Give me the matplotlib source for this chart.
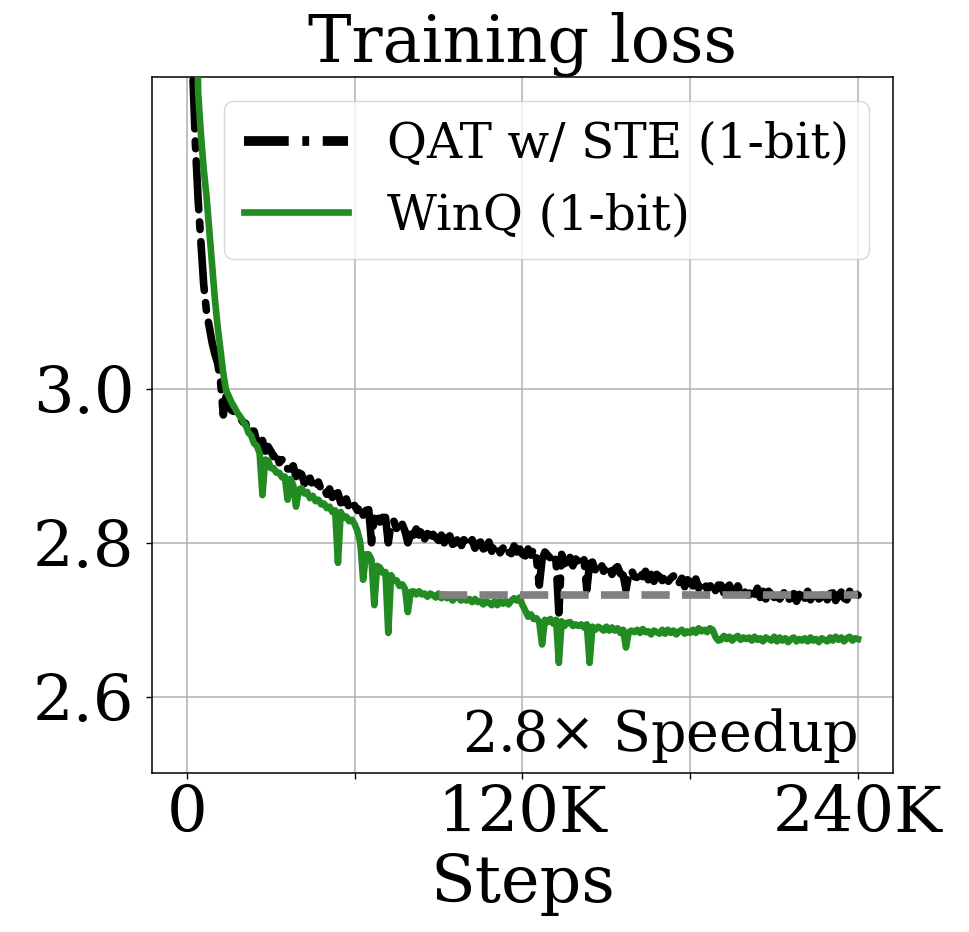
import numpy as np
import matplotlib
matplotlib.use("Agg")
import matplotlib.pyplot as plt

plt.rcParams['font.family'] = ['DejaVu Serif']
plt.rcParams['mathtext.fontset'] = 'dejavuserif'

# ---------------- data (loss logged every 1K steps) ----------------
steps_k = np.arange(1, 241)  # 1K ... 240K

qat_loss = [
    3.75, 3.42, 3.32, 3.245, 3.19, 3.135, 3.10, 3.08, 3.06, 3.045,
    3.033, 3.01, 2.966, 2.99, 2.979, 2.972, 2.970, 2.964, 2.962, 2.957,
    2.955, 2.942, 2.945, 2.945, 2.931, 2.930, 2.933, 2.919, 2.925, 2.919,
    2.912, 2.918, 2.904, 2.908, 2.908, 2.896, 2.896, 2.900, 2.886, 2.891,
    2.889, 2.877, 2.882, 2.884, 2.874, 2.870, 2.879, 2.869, 2.872, 2.863,
    2.870, 2.859, 2.863, 2.865, 2.852, 2.853, 2.857, 2.845, 2.852, 2.848,
    2.842, 2.849, 2.836, 2.842, 2.843, 2.800, 2.834, 2.839, 2.827, 2.833,
    2.833, 2.800, 2.826, 2.828, 2.818, 2.814, 2.824, 2.815, 2.800, 2.811,
    2.810, 2.818, 2.810, 2.817, 2.805, 2.812, 2.802, 2.811, 2.807, 2.803,
    2.810, 2.800, 2.806, 2.809, 2.798, 2.800, 2.806, 2.795, 2.804, 2.801,
    2.796, 2.804, 2.793, 2.799, 2.801, 2.792, 2.794, 2.801, 2.789, 2.797,
    2.797, 2.787, 2.793, 2.797, 2.788, 2.786, 2.796, 2.788, 2.792, 2.785,
    2.783, 2.792, 2.784, 2.792, 2.780, 2.745, 2.778, 2.788, 2.784, 2.780,
    2.786, 2.776, 2.709, 2.785, 2.773, 2.775, 2.781, 2.770, 2.779, 2.776,
    2.770, 2.778, 2.739, 2.773, 2.775, 2.765, 2.768, 2.774, 2.763, 2.770,
    2.770, 2.759, 2.766, 2.769, 2.760, 2.758, 2.739, 2.759, 2.764, 2.756,
    2.755, 2.764, 2.756, 2.763, 2.752, 2.759, 2.750, 2.759, 2.756, 2.751,
    2.758, 2.749, 2.754, 2.757, 2.746, 2.748, 2.754, 2.743, 2.752, 2.749,
    2.744, 2.753, 2.741, 2.747, 2.750, 2.740, 2.743, 2.749, 2.738, 2.745,
    2.745, 2.735, 2.741, 2.745, 2.736, 2.734, 2.744, 2.736, 2.740, 2.733,
    2.732, 2.741, 2.733, 2.741, 2.729, 2.737, 2.727, 2.737, 2.733, 2.729,
    2.736, 2.727, 2.733, 2.737, 2.726, 2.728, 2.734, 2.724, 2.733, 2.731,
    2.728, 2.737, 2.726, 2.733, 2.736, 2.727, 2.730, 2.737, 2.726, 2.734,
    2.735, 2.725, 2.732, 2.736, 2.728, 2.726, 2.737, 2.729, 2.734, 2.732,
]

winq_loss = [
    4.30, 3.95, 3.60, 3.385, 3.33, 3.285, 3.25, 3.205, 3.16, 3.116,
    3.08, 3.05, 3.02, 2.998, 2.99, 2.982, 2.976, 2.969, 2.964, 2.958,
    2.953, 2.943, 2.939, 2.929, 2.926, 2.916, 2.862, 2.908, 2.907, 2.897,
    2.897, 2.891, 2.891, 2.885, 2.886, 2.856, 2.883, 2.875, 2.847, 2.869,
    2.871, 2.864, 2.866, 2.858, 2.861, 2.854, 2.856, 2.850, 2.851, 2.845,
    2.847, 2.840, 2.842, 2.774, 2.840, 2.833, 2.834, 2.828, 2.830, 2.824,
    2.815, 2.800, 2.752, 2.785, 2.785, 2.778, 2.719, 2.770, 2.768, 2.761,
    2.762, 2.683, 2.758, 2.751, 2.751, 2.744, 2.746, 2.740, 2.710, 2.736,
    2.737, 2.733, 2.737, 2.733, 2.734, 2.730, 2.734, 2.732, 2.729, 2.734,
    2.728, 2.733, 2.728, 2.731, 2.725, 2.729, 2.730, 2.725, 2.727, 2.725,
    2.727, 2.723, 2.727, 2.723, 2.724, 2.720, 2.724, 2.722, 2.719, 2.724,
    2.719, 2.724, 2.721, 2.724, 2.720, 2.725, 2.728, 2.725, 2.729, 2.719,
    2.712, 2.704, 2.707, 2.701, 2.702, 2.697, 2.668, 2.700, 2.697, 2.701,
    2.695, 2.700, 2.644, 2.698, 2.692, 2.696, 2.697, 2.692, 2.694, 2.692,
    2.694, 2.690, 2.694, 2.644, 2.691, 2.687, 2.691, 2.689, 2.686, 2.691,
    2.686, 2.690, 2.686, 2.689, 2.683, 2.687, 2.664, 2.684, 2.686, 2.684,
    2.687, 2.683, 2.688, 2.684, 2.685, 2.681, 2.686, 2.684, 2.682, 2.687,
    2.682, 2.687, 2.683, 2.686, 2.681, 2.685, 2.687, 2.682, 2.685, 2.683,
    2.687, 2.683, 2.689, 2.685, 2.687, 2.684, 2.689, 2.687, 2.678, 2.673,
    2.674, 2.679, 2.675, 2.678, 2.673, 2.677, 2.679, 2.674, 2.677, 2.675,
    2.677, 2.673, 2.678, 2.674, 2.676, 2.672, 2.677, 2.675, 2.673, 2.678,
    2.672, 2.677, 2.673, 2.676, 2.671, 2.675, 2.677, 2.672, 2.675, 2.673,
    2.676, 2.672, 2.677, 2.673, 2.675, 2.671, 2.676, 2.674, 2.672, 2.677,
    2.673, 2.678, 2.674, 2.677, 2.672, 2.676, 2.678, 2.673, 2.676, 2.675,
]

# reference level: final QAT loss, reached by WinQ at ~90K steps
speedup_steps = [90000, 240000]
speedup_loss = [2.732, 2.732]

labels = ["QAT w/ STE (1-bit)", "WinQ (1-bit)"]
xtick_vals = [0, 60000, 120000, 180000, 240000]
xtick_labels = ["0", "", "120K", "", "240K"]
ytick_vals = [2.6, 2.8, 3.0]
ytick_labels = ["2.6", "2.8", "3.0"]
speedup_text = r"$2.8{\times}$ Speedup"

steps = steps_k * 1000

fig = plt.figure(figsize=(9.7, 9.32), dpi=100)
ax = fig.add_axes([152 / 970, 1 - 773 / 932, 741 / 970, 696 / 932])

ax.plot(steps, qat_loss, color="black", linestyle="-.", linewidth=5.5,
        dash_capstyle="round", label=labels[0], zorder=3)
ax.plot(steps, winq_loss, color="forestgreen", linestyle="-", linewidth=4.8,
        label=labels[1], zorder=4)
ax.plot(speedup_steps, speedup_loss, color="gray", linestyle="--",
        linewidth=5.5, zorder=5)

ax.set_xlim(-12500, 252500)
ax.set_ylim(2.501, 3.405)
ax.set_xticks(xtick_vals)
ax.set_xticklabels(xtick_labels)
ax.set_yticks(ytick_vals)
ax.set_yticklabels(ytick_labels)
ax.tick_params(axis="both", labelsize=46, length=4.5, width=1.0)
ax.tick_params(axis="y", pad=8)
ax.grid(True, color="#b0b0b0", linewidth=1.1)
for sp in ax.spines.values():
    sp.set_linewidth(1.1)

ax.set_title("Training loss", fontsize=47)
ax.set_xlabel("Steps", fontsize=47, labelpad=5)

ax.text(240000, 2.529, speedup_text, fontsize=40, ha="right", va="baseline")

leg = ax.legend(loc="upper right", fontsize=35, handlelength=2.15)
h0 = leg.legend_handles[0]
h0.set_linewidth(7)
h0.set_dash_capstyle("butt")
h0.set_dashes([4.6, 1.4, 0.7, 1.4])

fig.savefig("out.png", dpi=100)
